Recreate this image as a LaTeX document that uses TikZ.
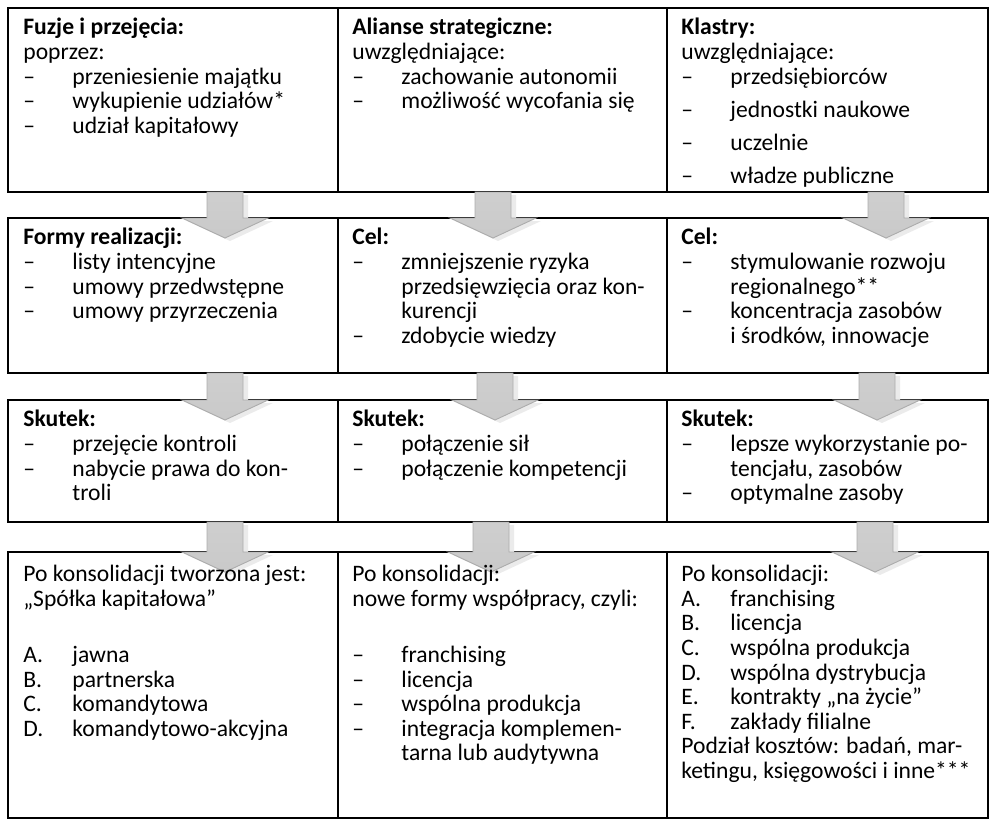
\documentclass[tikz,border=0pt]{standalone}
\usepackage{fontspec}
\setmainfont{Carlito}
\usetikzlibrary{calc}
\newlength{\px}\setlength{\px}{0.5465pt}
\newcommand{\dsh}{\makebox[26.8pt][l]{–}}
\newcommand{\lit}[1]{\makebox[26.8pt][l]{#1}}
\newcommand{\cont}{\hspace*{26.8pt}}
% block arrow from box #1 down to box #2, #3 = offset from left edge
\newcommand{\blockarrow}[3]{%
 \foreach \dx/\dy/\sty in {5/-3/arrowshadow,0/0/arrowbody}
  \path[\sty] ($(#1.south west)+(#3-18+\dx,\dy)$) -- ($(#1.south west)+(#3+18+\dx,\dy)$)
   -- ($(#2.north west)+(#3+18+\dx,\dy)$) -- ($(#2.north west)+(#3+43+\dx,\dy)$)
   -- ($(#2.north west)+(#3+\dx,-20+\dy)$) -- ($(#2.north west)+(#3-43+\dx,\dy)$)
   -- ($(#2.north west)+(#3-18+\dx,\dy)$) -- cycle;
}
\tikzset{
 cell/.style={draw,line width=1.3pt,anchor=north west,inner sep=0pt,outer sep=0pt},
 txt/.style={anchor=north west,inner sep=0pt,align=left,font=\fontsize{12.9}{13.44}\selectfont,
  execute at begin node=\strut},
 arrowshadow/.style={fill=gray!16},
 arrowbody/.style={draw=gray!65,line width=.5pt,top color=gray!38,middle color=white,bottom color=gray!42},
}

\begin{document}
\begin{tikzpicture}[x=\px,y=\px]
 \useasboundingbox (0,0) rectangle (991,-819);
 % rows of boxes
 \node[cell,minimum width=330\px,minimum height=184\px] (fuzje1) at (8,-8) {};
 \node[cell,minimum width=329\px,minimum height=184\px] (alianse1) at (338,-8) {};
 \node[cell,minimum width=321\px,minimum height=184\px] (klastry1) at (667,-8) {};
 \node[cell,minimum width=330\px,minimum height=155\px] (fuzje2) at (8,-218) {};
 \node[cell,minimum width=329\px,minimum height=155\px] (alianse2) at (338,-218) {};
 \node[cell,minimum width=321\px,minimum height=155\px] (klastry2) at (667,-218) {};
 \node[cell,minimum width=330\px,minimum height=122\px] (fuzje3) at (8,-400) {};
 \node[cell,minimum width=329\px,minimum height=122\px] (alianse3) at (338,-400) {};
 \node[cell,minimum width=321\px,minimum height=122\px] (klastry3) at (667,-400) {};
 \node[cell,minimum width=330\px,minimum height=266\px] (fuzje4) at (8,-552) {};
 \node[cell,minimum width=329\px,minimum height=266\px] (alianse4) at (338,-552) {};
 \node[cell,minimum width=321\px,minimum height=266\px] (klastry4) at (667,-552) {};

 % arrows
 \blockarrow{fuzje1}{fuzje2}{217}
 \blockarrow{alianse1}{alianse2}{155}
 \blockarrow{klastry1}{klastry2}{219}
 \blockarrow{fuzje2}{fuzje3}{217}
 \blockarrow{alianse2}{alianse3}{157}
 \blockarrow{klastry2}{klastry3}{210}
 \blockarrow{fuzje3}{fuzje4}{217}
 \blockarrow{alianse3}{alianse4}{153}
 \blockarrow{klastry3}{klastry4}{208}

 % texts
 \node[txt] (tfuzje1) at ($(fuzje1.north west)+(15,-10)$) {\textbf{Fuzje i przejęcia:}\\poprzez:\\
  \dsh przeniesienie majątku\\\dsh wykupienie udziałów*\\\dsh udział kapitałowy};
 \node[txt] (talianse1) at ($(alianse1.north west)+(14,-10)$) {\textbf{Alianse strategiczne:}\\uwzględniające:\\
  \dsh zachowanie autonomii\\\dsh możliwość wycofania się};
 \node[txt] (tklastry1) at ($(klastry1.north west)+(14,-10)$) {\textbf{Klastry:}\\uwzględniające:\\
  \dsh przedsiębiorców\\[4.6pt]\dsh jednostki naukowe\\[4.6pt]\dsh uczelnie\\[4.6pt]\dsh władze publiczne};

 \node[txt] (tfuzje2) at ($(fuzje2.north west)+(15,-10)$) {\textbf{Formy realizacji:}\\
  \dsh listy intencyjne\\\dsh umowy przedwstępne\\\dsh umowy przyrzeczenia};
 \node[txt] (talianse2) at ($(alianse2.north west)+(14,-10)$) {\textbf{Cel:}\\
  \dsh zmniejszenie ryzyka\\\cont przedsięwzięcia oraz kon-\\\cont kurencji\\\dsh zdobycie wiedzy};
 \node[txt] (tklastry2) at ($(klastry2.north west)+(14,-10)$) {\textbf{Cel:}\\
  \dsh stymulowanie rozwoju\\\cont regionalnego**\\\dsh koncentracja zasobów\\\cont i środków, innowacje};

 \node[txt] (tfuzje3) at ($(fuzje3.north west)+(15,-10)$) {\textbf{Skutek:}\\
  \dsh przejęcie kontroli\\\dsh nabycie prawa do kon-\\\cont troli};
 \node[txt] (talianse3) at ($(alianse3.north west)+(14,-10)$) {\textbf{Skutek:}\\
  \dsh połączenie sił\\\dsh połączenie kompetencji};
 \node[txt] (tklastry3) at ($(klastry3.north west)+(14,-10)$) {\textbf{Skutek:}\\
  \dsh lepsze wykorzystanie po-\\\cont tencjału, zasobów\\\dsh optymalne zasoby};

 \node[txt] (tfuzje4) at ($(fuzje4.north west)+(15,-13)$) {Po konsolidacji tworzona jest:\\„Spółka kapitałowa”\\[17.2pt]
  \lit{A.}jawna\\\lit{B.}partnerska\\\lit{C.}komandytowa\\\lit{D.}komandytowo-akcyjna};
 \node[txt] (talianse4) at ($(alianse4.north west)+(14,-13)$) {Po konsolidacji:\\nowe formy współpracy, czyli:\\[17.2pt]
  \dsh franchising\\\dsh licencja\\\dsh wspólna produkcja\\\dsh integracja komplemen-\\\cont tarna lub audytywna};
 \node[txt] (tklastry4) at ($(klastry4.north west)+(14,-13)$) {Po konsolidacji:\\
  \lit{A.}franchising\\\lit{B.}licencja\\\lit{C.}wspólna produkcja\\\lit{D.}wspólna dystrybucja\\
  \lit{E.}kontrakty „na życie”\\\lit{F.}zakłady filialne\\
  Podział kosztów: badań, mar-\\ketingu, księgowości i inne***};
\end{tikzpicture}
\end{document}
